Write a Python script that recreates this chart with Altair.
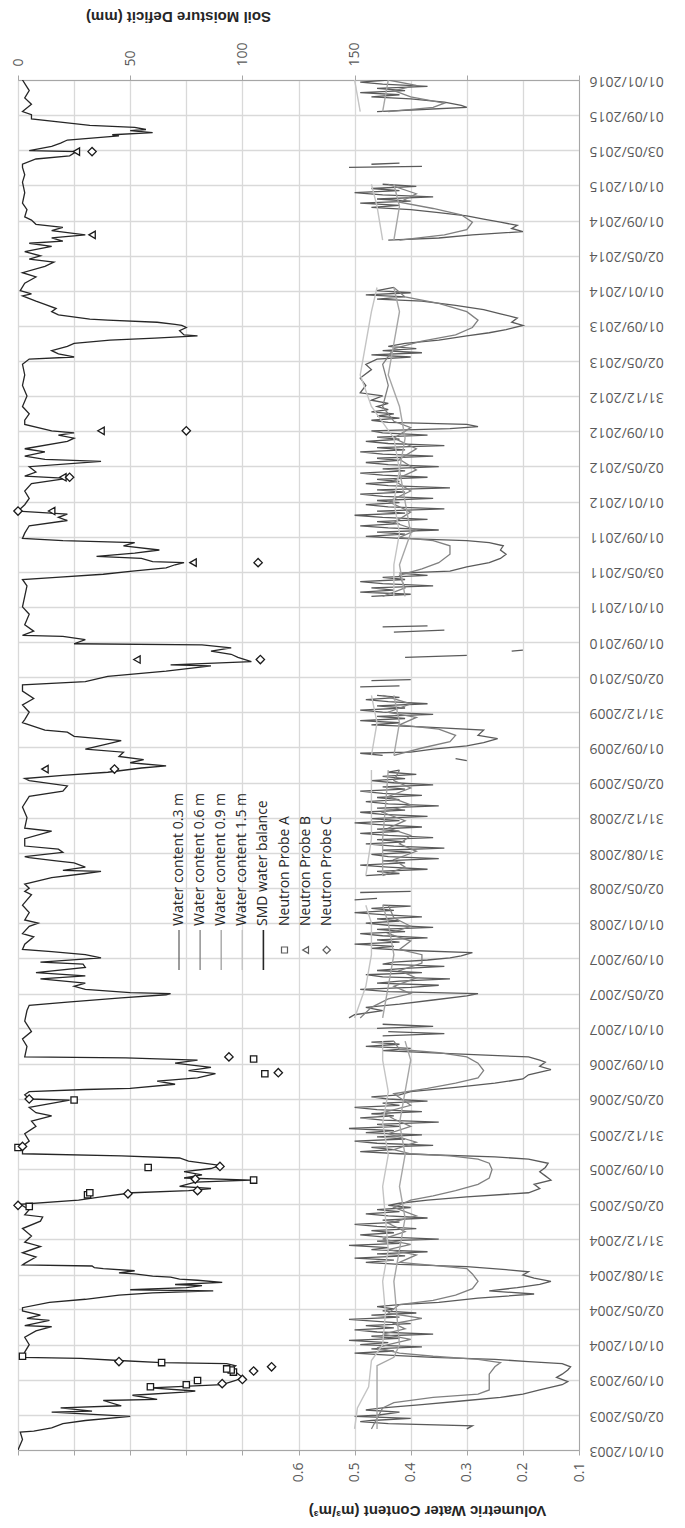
import altair as alt
import pandas as pd
from datetime import datetime, timedelta

# ---------------- data (decimal year, value) ----------------
TICK_LABELS = ["01/01/2003", "02/05/2003", "01/09/2003", "01/01/2004", "02/05/2004", "31/08/2004",
               "31/12/2004", "02/05/2005", "01/09/2005", "31/12/2005", "02/05/2006", "01/09/2006",
               "01/01/2007", "02/05/2007", "01/09/2007", "01/01/2008", "02/05/2008", "31/08/2008",
               "31/12/2008", "02/05/2009", "01/09/2009", "31/12/2009", "02/05/2010", "01/09/2010",
               "01/01/2011", "03/05/2011", "01/09/2011", "01/01/2012", "02/05/2012", "01/09/2012",
               "31/12/2012", "02/05/2013", "01/09/2013", "01/01/2014", "02/05/2014", "01/09/2014",
               "01/01/2015", "03/05/2015", "01/09/2015", "01/01/2016"]

SMD = [(2003.00, 0), (2003.10, 2), (2003.17, 1), (2003.18, 7), (2003.21, 15), (2003.25, 20), (2003.28, 30),
       (2003.32, 50), (2003.36, 15), (2003.37, 33), (2003.40, 19), (2003.42, 46), (2003.47, 38), (2003.48, 62),
       (2003.52, 51), (2003.55, 74), (2003.56, 79), (2003.59, 59), (2003.62, 91), (2003.66, 97), (2003.69, 100),
       (2003.74, 97), (2003.77, 95), (2003.80, 97), (2003.82, 93), (2003.83, 64), (2003.85, 45), (2003.87, 28),
       (2003.88, 2), (2003.93, 3), (2004.00, 5), (2004.07, 3), (2004.13, 8), (2004.17, 15), (2004.18, 3),
       (2004.23, 14), (2004.25, 4), (2004.28, 10), (2004.32, 2), (2004.35, 2), (2004.40, 14), (2004.43, 30),
       (2004.47, 45), (2004.49, 60), (2004.51, 87), (2004.52, 50), (2004.54, 75), (2004.56, 82), (2004.57, 70),
       (2004.59, 91), (2004.61, 80), (2004.62, 72), (2004.64, 68), (2004.65, 60), (2004.67, 52), (2004.68, 45),
       (2004.70, 52), (2004.72, 38), (2004.73, 34), (2004.745, 33), (2004.755, 2), (2004.77, 3), (2004.83, 8),
       (2004.87, 2), (2004.93, 10), (2004.97, 3), (2005.03, 6), (2005.10, 2), (2005.17, 10), (2005.21, 11),
       (2005.23, 3), (2005.28, 5), (2005.33, 1), (2005.37, 27), (2005.40, 37), (2005.44, 51), (2005.46, 76),
       (2005.48, 86), (2005.50, 72), (2005.54, 79), (2005.56, 104), (2005.58, 74), (2005.61, 82), (2005.64, 74),
       (2005.67, 86), (2005.70, 90), (2005.74, 76), (2005.77, 72), (2005.79, 46), (2005.81, 2), (2005.88, 2),
       (2005.93, 5), (2006.00, 3), (2006.07, 8), (2006.12, 6), (2006.17, 15), (2006.20, 8), (2006.25, 5),
       (2006.32, 23), (2006.33, 5), (2006.37, 3), (2006.40, 5), (2006.42, 30), (2006.43, 50), (2006.47, 70),
       (2006.50, 62), (2006.53, 80), (2006.57, 88), (2006.60, 76), (2006.63, 86), (2006.67, 70), (2006.70, 80),
       (2006.72, 48), (2006.73, 3), (2006.83, 4), (2006.90, 2), (2006.97, 6), (2007.07, 3), (2007.17, 4),
       (2007.22, 5), (2007.25, 22), (2007.29, 46), (2007.32, 66), (2007.33, 68), (2007.34, 50), (2007.37, 30),
       (2007.40, 25), (2007.43, 30), (2007.47, 10), (2007.50, 30), (2007.53, 8), (2007.58, 30), (2007.61, 29),
       (2007.63, 10), (2007.67, 37), (2007.70, 30), (2007.73, 15), (2007.75, 2), (2007.80, 3), (2007.87, 7),
       (2007.90, 2), (2007.97, 5), (2008.00, 9), (2008.03, 3), (2008.10, 5), (2008.17, 2), (2008.27, 6),
       (2008.30, 3), (2008.33, 5), (2008.37, 3), (2008.43, 15), (2008.47, 30), (2008.49, 37), (2008.50, 20),
       (2008.53, 30), (2008.57, 25), (2008.59, 17), (2008.62, 5), (2008.63, 3), (2008.67, 20), (2008.70, 18),
       (2008.73, 3), (2008.80, 3), (2008.87, 15), (2008.90, 3), (2009.00, 4), (2009.10, 2), (2009.20, 5),
       (2009.25, 20), (2009.30, 22), (2009.35, 5), (2009.37, 3), (2009.40, 20), (2009.43, 40), (2009.47, 55),
       (2009.49, 66), (2009.52, 50), (2009.55, 56), (2009.58, 45), (2009.62, 47), (2009.65, 30), (2009.70, 40),
       (2009.73, 46), (2009.77, 25), (2009.81, 22), (2009.83, 12), (2009.90, 2), (2009.93, 3), (2010.00, 5),
       (2010.07, 2), (2010.13, 7), (2010.20, 2), (2010.26, 2), (2010.29, 30), (2010.34, 40), (2010.39, 66),
       (2010.44, 86), (2010.45, 68), (2010.48, 104), (2010.52, 98), (2010.55, 95), (2010.58, 86), (2010.61, 95),
       (2010.64, 82), (2010.65, 25), (2010.69, 30), (2010.72, 20), (2010.73, 2), (2010.77, 7), (2010.83, 3),
       (2010.93, 5), (2011.00, 2), (2011.10, 3), (2011.20, 4), (2011.26, 2), (2011.28, 17), (2011.31, 38),
       (2011.34, 51), (2011.37, 66), (2011.40, 70), (2011.42, 74), (2011.43, 60), (2011.46, 55), (2011.48, 35),
       (2011.51, 52), (2011.54, 63), (2011.58, 47), (2011.61, 52), (2011.63, 20), (2011.65, 2), (2011.70, 3),
       (2011.77, 5), (2011.82, 22), (2011.85, 18), (2011.88, 22), (2011.91, 0), (2011.97, 3), (2012.03, 5),
       (2012.10, 3), (2012.17, 6), (2012.22, 22), (2012.24, 3), (2012.28, 8), (2012.33, 5), (2012.38, 37),
       (2012.40, 12), (2012.43, 3), (2012.47, 12), (2012.50, 3), (2012.57, 22), (2012.60, 25), (2012.63, 18),
       (2012.65, 25), (2012.67, 15), (2012.73, 3), (2012.77, 3), (2012.83, 5), (2012.90, 2), (2013.00, 4),
       (2013.10, 2), (2013.20, 3), (2013.30, 2), (2013.35, 5), (2013.37, 25), (2013.40, 18), (2013.43, 15),
       (2013.47, 22), (2013.50, 25), (2013.53, 41), (2013.55, 61), (2013.57, 80), (2013.58, 74), (2013.62, 72),
       (2013.65, 75), (2013.67, 73), (2013.68, 70), (2013.70, 62), (2013.72, 40), (2013.73, 32), (2013.77, 18),
       (2013.80, 15), (2013.83, 17), (2013.87, 12), (2013.90, 8), (2013.95, 2), (2013.97, 6), (2014.00, 1),
       (2014.07, 3), (2014.13, 8), (2014.17, 2), (2014.23, 12), (2014.27, 16), (2014.30, 5), (2014.33, 10),
       (2014.37, 3), (2014.42, 15), (2014.45, 5), (2014.47, 20), (2014.50, 15), (2014.52, 25), (2014.53, 30),
       (2014.57, 15), (2014.60, 20), (2014.63, 8), (2014.67, 6), (2014.70, 3), (2014.77, 4), (2014.83, 2),
       (2014.93, 3), (2015.03, 2), (2015.10, 3), (2015.17, 2), (2015.20, 2), (2015.25, 8), (2015.28, 23),
       (2015.32, 26), (2015.33, 5), (2015.37, 15), (2015.40, 19), (2015.43, 22), (2015.47, 45), (2015.48, 42),
       (2015.50, 60), (2015.52, 50), (2015.53, 57), (2015.55, 52), (2015.57, 32), (2015.60, 19), (2015.63, 6),
       (2015.67, 6), (2015.70, 2), (2015.77, 6), (2015.83, 3), (2015.90, 5), (2016.00, 2)]

WC03 = [(2003.20, .30), (2003.23, .29), (2003.25, .44), (2003.27, .49), (2003.28, .47), (2003.30, .40),
        (2003.32, .50), (2003.33, .46), (2003.36, .42), (2003.38, .48), (2003.40, .45), (2003.43, .38),
        (2003.47, .30), (2003.50, .24), (2003.53, .20), (2003.57, .17), (2003.62, .13), (2003.65, .12),
        (2003.69, .14), (2003.72, .13), (2003.76, .12), (2003.79, .115), (2003.82, .13), (2003.84, .19),
        (2003.86, .25), (2003.88, .36), (2003.90, .44), (2003.92, .50), (2003.94, .43), (2003.96, .47),
        (2003.98, .38), (2004.00, .49), (2004.02, .44), (2004.04, .51), (2004.06, .42), (2004.08, .47),
        (2004.10, .36), (2004.12, .46), (2004.14, .50), (2004.16, .43), (2004.18, .48), (2004.20, .40),
        (2004.22, .46), (2004.24, .51), (2004.26, .42), (2004.28, .47), (2004.30, .39), (2004.32, .45),
        (2004.34, .43), (2004.36, .46), (2004.38, .42), (2004.40, .35), (2004.44, .28), (2004.48, .18),
        (2004.51, .26), (2004.54, .21), (2004.57, .17), (2004.60, .15), (2004.63, .18), (2004.66, .20),
        (2004.69, .19), (2004.71, .23), (2004.74, .30), (2004.76, .42), (2004.78, .48), (2004.80, .43),
        (2004.82, .50), (2004.84, .41), (2004.86, .46), (2004.88, .37), (2004.90, .47), (2004.92, .44),
        (2004.94, .51), (2004.96, .42), (2004.98, .46), (2005.00, .35), (2005.02, .45), (2005.04, .49),
        (2005.06, .43), (2005.08, .47), (2005.10, .39), (2005.12, .46), (2005.14, .50), (2005.16, .42),
        (2005.18, .45), (2005.20, .37), (2005.22, .44), (2005.24, .48), (2005.26, .42), (2005.28, .46),
        (2005.30, .40), (2005.32, .44), (2005.34, .42), (2005.37, .37), (2005.40, .30), (2005.44, .19),
        (2005.48, .17), (2005.52, .18), (2005.56, .15), (2005.60, .16), (2005.64, .17), (2005.68, .16),
        (2005.72, .155), (2005.76, .19), (2005.78, .25), (2005.81, .42), (2005.83, .49), (2005.85, .43),
        (2005.87, .47), (2005.89, .36), (2005.91, .46), (2005.93, .50), (2005.95, .41), (2005.97, .46),
        (2005.99, .38), (2006.01, .48), (2006.03, .43), (2006.05, .51), (2006.07, .42), (2006.09, .46),
        (2006.11, .35), (2006.13, .45), (2006.15, .49), (2006.17, .43), (2006.19, .47), (2006.21, .38),
        (2006.23, .46), (2006.25, .50), (2006.27, .42), (2006.29, .45), (2006.31, .37), (2006.33, .44),
        (2006.35, .47), (2006.37, .42), (2006.40, .40), (2006.44, .32), (2006.48, .25), (2006.52, .20),
        (2006.56, .19), (2006.61, .15), (2006.64, .17), (2006.68, .16), (2006.70, .17), (2006.73, .19),
        (2006.76, .33), (2006.79, .45), (2006.81, .40), (2006.83, .48), (2006.85, .42), (2006.87, .47),
        (2006.88, .43),
        None, (2006.93, .45), (2006.95, .34), (2006.97, .44),
        None, (2007.00, .46), (2007.02, .36), (2007.04, .45),
        None, (2007.10, .51), (2007.13, .50), (2007.17, .45), (2007.20, .48), (2007.23, .42), (2007.27, .36),
        (2007.31, .30), (2007.33, .28), (2007.35, .44), (2007.37, .49), (2007.39, .40), (2007.41, .35),
        (2007.43, .46), (2007.45, .42), (2007.47, .33), (2007.49, .45), (2007.51, .48), (2007.53, .38),
        (2007.55, .46), (2007.57, .41), (2007.59, .34), (2007.61, .45), (2007.63, .43), (2007.65, .37),
        (2007.67, .33), (2007.69, .31), (2007.72, .29), (2007.74, .40), (2007.76, .47), (2007.78, .43),
        (2007.80, .50), (2007.82, .42), (2007.84, .46), (2007.86, .37), (2007.88, .45), (2007.90, .49),
        (2007.92, .41), (2007.94, .46), (2007.96, .36), (2007.98, .44), (2008.00, .48), (2008.02, .42),
        (2008.04, .46), (2008.06, .38), (2008.08, .45), (2008.10, .50), (2008.12, .43), (2008.14, .47),
        (2008.16, .40), (2008.17, .45),
        None, (2008.22, .50), (2008.235, .46),
        None, (2008.29, .49), (2008.30, .40),
        None, (2008.45, .48), (2008.47, .42), (2008.49, .46), (2008.51, .37), (2008.53, .44), (2008.55, .49),
        (2008.57, .41), (2008.59, .45), (2008.61, .35), (2008.63, .44), (2008.65, .47), (2008.67, .40),
        (2008.69, .45), (2008.71, .34), (2008.73, .43), (2008.75, .48), (2008.77, .41), (2008.79, .46),
        (2008.81, .36), (2008.83, .44), (2008.85, .49), (2008.87, .42), (2008.89, .46), (2008.91, .38),
        (2008.93, .45), (2008.95, .50), (2008.97, .42), (2008.99, .47), (2009.01, .37), (2009.03, .45),
        (2009.05, .49), (2009.07, .41), (2009.09, .46), (2009.11, .35), (2009.13, .44), (2009.15, .48),
        (2009.17, .42), (2009.19, .46), (2009.21, .38), (2009.23, .45), (2009.25, .49), (2009.27, .41),
        (2009.29, .45), (2009.31, .36), (2009.33, .43), (2009.35, .47), (2009.37, .41), (2009.39, .45),
        (2009.41, .39), (2009.43, .44), (2009.45, .42),
        None, (2009.54, .30), (2009.56, .32),
        None, (2009.59, .45), (2009.61, .49), (2009.62, .40), (2009.65, .36), (2009.68, .30), (2009.71, .27),
        (2009.75, .245), (2009.78, .28), (2009.83, .27), (2009.86, .38), (2009.88, .47), (2009.90, .42),
        (2009.92, .49), (2009.94, .41), (2009.96, .46), (2009.98, .36), (2010.00, .45), (2010.02, .49),
        (2010.04, .41), (2010.06, .46), (2010.08, .37), (2010.10, .44), (2010.12, .48), (2010.14, .42),
        (2010.16, .46),
        None, (2010.24, .49), (2010.25, .42),
        None, (2010.30, .47), (2010.31, .40),
        None, (2010.52, .41), (2010.54, .30),
        None, (2010.58, .22), (2010.59, .20),
        None, (2010.76, .43), (2010.78, .34),
        None, (2010.81, .45), (2010.82, .37),
        None, (2011.10, .47), (2011.12, .40), (2011.14, .49), (2011.16, .43), (2011.18, .47), (2011.20, .36),
        (2011.22, .45), (2011.24, .49), (2011.26, .41), (2011.28, .45), (2011.30, .37), (2011.32, .42),
        (2011.34, .33), (2011.38, .30), (2011.42, .26), (2011.46, .24), (2011.50, .23), (2011.54, .24),
        (2011.58, .235), (2011.61, .26), (2011.63, .30), (2011.65, .42), (2011.67, .48), (2011.69, .41),
        (2011.71, .46), (2011.73, .35), (2011.75, .44), (2011.77, .49), (2011.79, .42), (2011.81, .46),
        (2011.83, .37), (2011.85, .45), (2011.87, .50), (2011.89, .41), (2011.91, .46), (2011.93, .34),
        (2011.95, .44), (2011.97, .48), (2011.99, .42), (2012.01, .46), (2012.03, .36), (2012.05, .45),
        (2012.07, .49), (2012.09, .41), (2012.11, .46), (2012.13, .33), (2012.15, .44), (2012.17, .48),
        (2012.19, .42), (2012.21, .46), (2012.23, .37), (2012.25, .45), (2012.27, .49), (2012.29, .41),
        (2012.31, .45), (2012.33, .35), (2012.35, .44), (2012.37, .48), (2012.39, .42), (2012.41, .46),
        (2012.43, .36), (2012.45, .45), (2012.47, .49), (2012.49, .41), (2012.51, .46), (2012.53, .34),
        (2012.55, .44), (2012.57, .48), (2012.59, .42), (2012.61, .46), (2012.63, .37), (2012.65, .45),
        (2012.67, .47), (2012.69, .33), (2012.71, .28), (2012.73, .30), (2012.75, .44), (2012.77, .47),
        (2012.79, .42), (2012.81, .46), (2012.83, .43), (2012.85, .47), (2012.87, .44), (2012.90, .46),
        (2012.93, .44), (2012.96, .47), (2013.00, .45), (2013.03, .49), (2013.10, .48), (2013.17, .49),
        (2013.25, .47), (2013.30, .48), (2013.35, .46), (2013.37, .40), (2013.39, .47), (2013.41, .38),
        (2013.43, .45), (2013.45, .39), (2013.47, .44), (2013.50, .41), (2013.53, .35), (2013.57, .30),
        (2013.60, .26), (2013.63, .23), (2013.67, .20), (2013.70, .22), (2013.74, .21), (2013.78, .24),
        (2013.82, .27), (2013.86, .32), (2013.90, .38), (2013.92, .46), (2013.94, .41), (2013.96, .48),
        (2013.98, .40), (2014.00, .46), (2014.03, .43),
        None, (2014.48, .44), (2014.50, .35), (2014.53, .29), (2014.56, .20), (2014.59, .22), (2014.62, .21),
        (2014.65, .24), (2014.68, .27), (2014.71, .30), (2014.74, .35), (2014.77, .40), (2014.79, .47),
        (2014.81, .42), (2014.83, .49), (2014.85, .40), (2014.87, .46), (2014.89, .36), (2014.91, .45),
        (2014.93, .50), (2014.95, .42), (2014.97, .47), (2014.99, .39), (2015.01, .45),
        None, (2015.17, .51), (2015.18, .38),
        None, (2015.20, .47), (2015.21, .42),
        None, (2015.70, .46), (2015.72, .38), (2015.74, .30), (2015.76, .31), (2015.79, .34), (2015.82, .40),
        (2015.84, .47), (2015.86, .42), (2015.88, .49), (2015.90, .41), (2015.92, .46), (2015.94, .37),
        (2015.96, .45), (2015.98, .49), (2016.00, .44)]

WC06 = [(2003.20, .47), (2003.30, .46), (2003.40, .45), (2003.45, .43), (2003.50, .36), (2003.53, .28),
        (2003.57, .26), (2003.65, .26), (2003.72, .26), (2003.79, .25), (2003.83, .24), (2003.86, .28),
        (2003.89, .36), (2003.92, .42), (2003.97, .46), (2004.00, .44), (2004.05, .40), (2004.10, .45),
        (2004.15, .41), (2004.20, .43), (2004.25, .38), (2004.30, .44), (2004.38, .42), (2004.42, .36),
        (2004.47, .32), (2004.53, .29), (2004.60, .28), (2004.67, .29), (2004.72, .30), (2004.75, .36),
        (2004.78, .42), (2004.85, .39), (2004.90, .44), (2004.95, .40), (2005.00, .45), (2005.07, .41),
        (2005.15, .44), (2005.22, .39), (2005.30, .43), (2005.37, .40), (2005.41, .36), (2005.46, .32),
        (2005.52, .28), (2005.58, .26), (2005.66, .255), (2005.72, .26), (2005.76, .28), (2005.79, .33),
        (2005.81, .40), (2005.85, .43), (2005.92, .39), (2006.00, .44), (2006.07, .40), (2006.14, .43),
        (2006.20, .45), (2006.27, .40), (2006.38, .43), (2006.43, .37), (2006.48, .32), (2006.53, .28),
        (2006.60, .27), (2006.67, .28), (2006.73, .30), (2006.77, .35), (2006.80, .42), (2006.88, .43),
        None, (2007.10, .49), (2007.20, .47), (2007.28, .44), (2007.33, .40), (2007.40, .43), (2007.48, .39),
        (2007.55, .42), (2007.62, .38), (2007.70, .38), (2007.75, .42), (2007.83, .40), (2007.90, .44),
        (2007.97, .40), (2008.05, .43), (2008.17, .44),
        None, (2008.45, .45), (2008.53, .41), (2008.60, .43), (2008.68, .39), (2008.75, .42), (2008.83, .40),
        (2008.90, .44), (2008.97, .41), (2009.05, .45), (2009.12, .40), (2009.20, .44), (2009.28, .40),
        (2009.35, .43), (2009.45, .42),
        None, (2009.59, .43), (2009.66, .38), (2009.72, .33), (2009.78, .32), (2009.84, .35), (2009.88, .42),
        (2009.95, .39), (2010.00, .44), (2010.08, .40), (2010.16, .45),
        None, (2011.10, .45), (2011.18, .41), (2011.30, .42), (2011.36, .38), (2011.42, .35), (2011.50, .33),
        (2011.58, .33), (2011.63, .36), (2011.66, .42), (2011.73, .39), (2011.80, .43), (2011.90, .40),
        (2012.00, .44), (2012.10, .40), (2012.20, .43), (2012.30, .39), (2012.40, .42), (2012.50, .39),
        (2012.60, .43), (2012.70, .40), (2012.76, .43), (2012.90, .45), (2013.10, .44), (2013.30, .45),
        (2013.45, .43), (2013.52, .38), (2013.58, .32), (2013.65, .29), (2013.72, .28), (2013.80, .30),
        (2013.88, .35), (2013.94, .41), (2014.03, .43),
        None, (2014.48, .42), (2014.53, .34), (2014.58, .30), (2014.65, .29), (2014.72, .31), (2014.78, .36),
        (2014.84, .42), (2014.92, .39), (2015.01, .44),
        None, (2015.70, .44), (2015.74, .36), (2015.78, .34), (2015.84, .40), (2015.90, .43), (2015.95, .39),
        (2016.00, .44)]

WC09 = [(2003.20, .46), (2003.50, .46), (2003.80, .46), (2003.88, .43), (2004.00, .42), (2004.30, .425),
        (2004.60, .43), (2004.90, .42), (2005.20, .41), (2005.50, .42), (2005.80, .41), (2006.10, .42),
        (2006.40, .41), (2006.70, .40), (2006.88, .41),
        None, (2007.10, .45), (2007.40, .44), (2007.70, .43), (2008.00, .44), (2008.17, .45),
        None, (2008.45, .45), (2008.80, .45), (2009.10, .445), (2009.45, .44),
        None, (2009.59, .43), (2009.90, .42), (2010.16, .43),
        None, (2011.10, .41), (2011.40, .42), (2011.70, .40), (2012.00, .41), (2012.30, .42), (2012.60, .41),
        (2012.90, .42), (2013.20, .44), (2013.50, .43), (2013.80, .42), (2014.03, .43),
        None, (2014.48, .43), (2014.80, .42), (2015.01, .43),
        None, (2015.70, .45), (2016.00, .44)]

WC15 = [(2003.20, .50), (2003.40, .495), (2003.60, .475), (2003.85, .47), (2004.00, .45), (2004.30, .445),
        (2004.60, .45), (2004.90, .44), (2005.20, .445), (2005.50, .45), (2005.80, .44), (2006.10, .45),
        (2006.40, .44), (2006.70, .45), (2006.88, .45),
        None, (2007.10, .50), (2007.40, .48), (2007.70, .47), (2008.00, .47), (2008.17, .48),
        None, (2008.45, .48), (2008.80, .47), (2009.10, .47), (2009.45, .47),
        None, (2009.59, .47), (2009.90, .46), (2010.16, .47),
        None, (2011.10, .43), (2011.40, .43), (2011.70, .42), (2012.00, .43), (2012.30, .42), (2012.60, .43),
        (2012.90, .47), (2013.20, .49), (2013.50, .48), (2013.80, .47), (2014.03, .46),
        None, (2014.48, .45), (2014.80, .46), (2015.01, .47),
        None, (2015.70, .49), (2016.00, .50)]

PROBE_A = [(2003.60, 59), (2003.62, 75), (2003.66, 80), (2003.74, 96), (2003.76, 95), (2003.77, 93),
           (2003.83, 64), (2003.89, 2), (2005.31, 5), (2005.42, 31), (2005.44, 32), (2005.56, 105),
           (2005.68, 58), (2005.87, 0), (2006.32, 25), (2006.57, 110), (2006.71, 105)]
PROBE_B = [(2009.46, 12), (2010.50, 53), (2011.42, 78), (2011.91, 15), (2012.23, 20), (2012.67, 37),
           (2014.53, 33), (2015.32, 26)]
PROBE_C = [(2003.63, 91), (2003.67, 100), (2003.75, 105), (2003.79, 113), (2003.84, 45), (2005.32, 0),
           (2005.43, 49), (2005.46, 80), (2005.57, 79), (2005.69, 90), (2005.88, 2), (2006.33, 5),
           (2006.58, 116), (2006.73, 94), (2009.46, 43), (2010.50, 108), (2011.42, 107), (2011.91, 0),
           (2012.23, 23), (2012.67, 75), (2015.32, 33)]

LEGEND = ["Water content 0.3 m", "Water content 0.6 m", "Water content 0.9 m", "Water content 1.5 m",
          "SMD water balance", "Neutron Probe A", "Neutron Probe B", "Neutron Probe C"]
WC_TICKS = [0.1, 0.2, 0.3, 0.4, 0.5, 0.6, 0.7, 0.8, 0.9, 1.0, 1.1]
SMD_TICKS = [0, 50, 100, 150, 200, 250]


# ---------------- helpers ----------------
def to_iso(y):
    yr = int(y)
    start = datetime(yr, 1, 1)
    n = (datetime(yr + 1, 1, 1) - start).days
    return (start + timedelta(days=(y - yr) * n)).strftime("%Y-%m-%dT%H:%M:%SZ")


def frame(points, field):
    rows, seg = [], 0
    for p in points:
        if p is None:
            seg += 1
            continue
        rows.append({"date": to_iso(p[0]), field: p[1], "seg": seg})
    return pd.DataFrame(rows)


def dt(s):
    return alt.DateTime(year=int(s[6:]), month=int(s[3:5]), date=int(s[:2]), utc=True)


W, H = 561, 1370
LABEL_FONT = "Open Sans"
TITLE_FONT = "Liberation Sans"
GRID = "#d9d9d9"
AXIS_LINE = "#a6a6a6"
LABEL_COLOR = "#595959"

y_enc = alt.Y(
    "date:T",
    scale=alt.Scale(type="utc", domain=[dt("01/01/2003"), dt("01/01/2016")]),
    axis=alt.Axis(orient="right", values=[dt(s) for s in TICK_LABELS], format="%d/%m/%Y",
                  labelAngle=180, labelAlign="right", labelBaseline="middle", labelPadding=10,
                  ticks=False, title=None, grid=True, gridColor=GRID, gridWidth=1.3,
                  domainColor=AXIS_LINE, labelColor=LABEL_COLOR, labelFont=LABEL_FONT,
                  labelFontSize=14, labelOverlap=False),
)

x_wc = alt.X(
    "value:Q",
    scale=alt.Scale(domain=[0.1, 1.1], reverse=True, nice=False, zero=False),
    axis=alt.Axis(orient="bottom", values=WC_TICKS,
                  labelExpr="datum.value <= 0.61 ? format(datum.value, '.1f') : ''",
                  labelAngle=270, labelAlign="right", labelBaseline="middle", labelPadding=7,
                  tickSize=5, tickColor=AXIS_LINE, domainColor=AXIS_LINE, grid=True, gridColor=GRID,
                  gridWidth=1.3, labelColor=LABEL_COLOR, labelFont=LABEL_FONT, labelFontSize=14,
                  labelOverlap=False,
                  title="Volumetric Water Content (m³/m³)", titleAngle=180, titleX=409, titleY=60,
                  titleBaseline="middle", titleAlign="center", titleFont=TITLE_FONT,
                  titleFontSize=15, titleFontWeight="bold", titleColor="#262626"),
)

x_smd = alt.X(
    "smd:Q",
    scale=alt.Scale(domain=[0, 250], nice=False, zero=False),
    axis=alt.Axis(orient="top", values=SMD_TICKS,
                  labelExpr="datum.value <= 150 ? datum.label : ''",
                  labelAngle=270, labelAlign="left", labelBaseline="middle", labelPadding=9,
                  tickSize=5, tickColor=AXIS_LINE, domainColor=AXIS_LINE, grid=False,
                  labelColor=LABEL_COLOR, labelFont=LABEL_FONT, labelFontSize=14, labelOverlap=False,
                  title="Soil Moisture Deficit (mm)", titleAngle=180, titleX=160, titleY=-64,
                  titleBaseline="middle", titleAlign="center", titleFont=TITLE_FONT,
                  titleFontSize=15, titleFontWeight="bold", titleColor="#262626"),
)

# ---------------- water content layers ----------------
wc_specs = [(WC03, "#5a5a5a", 1.3), (WC06, "#808080", 1.3), (WC09, "#a6a6a6", 1.4), (WC15, "#c4c4c4", 1.4)]
wc_layers = [
    alt.Chart(frame(pts, "value")).mark_line(color=col, strokeWidth=sw, clip=True).encode(
        x=x_wc, y=y_enc, detail="seg:N", order="date:T")
    for pts, col, sw in wc_specs
]
wc_chart = alt.layer(*wc_layers)

# ---------------- SMD + neutron probes ----------------
smd_line = alt.Chart(frame(SMD, "smd")).mark_line(color="#262626", strokeWidth=1.3, clip=True).encode(
    x=x_smd, y=y_enc, order="date:T")
probe_layers = [
    alt.Chart(frame(pts, "smd")).mark_point(shape=shp, size=sz, filled=False, color="#1a1a1a",
                                            strokeWidth=1.3, fill="white", fillOpacity=1).encode(
        x=x_smd, y=y_enc)
    for pts, shp, sz in [(PROBE_A, "square", 40), (PROBE_B, "triangle-left", 55), (PROBE_C, "diamond", 70)]
]
smd_chart = alt.layer(smd_line, *probe_layers)

# ---------------- manual legend (rotated like the chart) ----------------
leg_x0, leg_dx, text_y, sym_y0, sym_y1 = 161, 21.1, 846, 850, 890
sym_style = [("line", "#5a5a5a", 1.2), ("line", "#808080", 1.3), ("line", "#a6a6a6", 1.4),
             ("line", "#c4c4c4", 1.4), ("line", "#262626", 1.6), ("square", None, 36),
             ("triangle-left", None, 45), ("diamond", None, 55)]
legend_layers = []
for i, name in enumerate(LEGEND):
    lx = leg_x0 + leg_dx * i
    d = pd.DataFrame({"label": [name]})
    legend_layers.append(
        alt.Chart(d).mark_text(angle=270, align="left", baseline="middle", font=LABEL_FONT,
                               fontSize=14, color="#262626").encode(
            x=alt.value(lx), y=alt.value(text_y), text="label:N"))
    kind, col, val = sym_style[i]
    if kind == "line":
        legend_layers.append(
            alt.Chart(d).mark_rule(color=col, strokeWidth=val).encode(
                x=alt.value(lx), y=alt.value(sym_y0), y2=alt.value(sym_y1)))
    else:
        legend_layers.append(
            alt.Chart(d).mark_point(shape=kind, size=val, filled=False, color="#1a1a1a",
                                    strokeWidth=1.2).encode(
                x=alt.value(lx), y=alt.value((sym_y0 + sym_y1) / 2)))

chart = alt.layer(wc_chart, smd_chart, *legend_layers).resolve_scale(x="independent").properties(
    width=W, height=H, padding={"left": 3, "top": 0, "right": 0, "bottom": 14}
).configure_view(stroke=None).configure(background="white")

chart.save("out.html", embed_options={"renderer": "svg", "actions": False})
